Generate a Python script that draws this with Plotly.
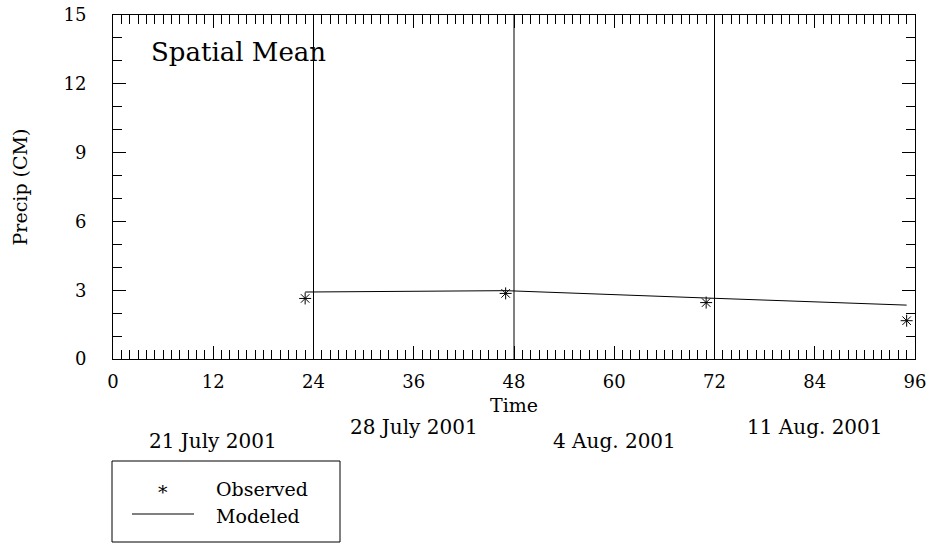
import plotly.graph_objects as go

# ---- data ----
obs_hours = [23, 47, 71, 95]
observed = [2.64, 2.86, 2.46, 1.67]
model_hours = [23, 47, 71, 95]
modeled = [2.92, 2.98, 2.66, 2.35]
day_bounds = [24, 48, 72]
date_hours = [12, 36, 60, 84]
date_labels = ["21 July 2001", "28 July 2001", "4 Aug. 2001", "11 Aug. 2001"]
x_ticks = [0, 12, 24, 36, 48, 60, 72, 84, 96]
y_ticks = [0, 3, 6, 9, 12, 15]
legend_names = ["Observed", "Modeled"]

W, H = 931, 544
L, R, T, B = 113, 16, 15, 185
PW, PH = W - L - R, H - T - B
FONT = "DejaVu Serif"
BLACK = "black"


def px(xp):
    return (xp - L) / PW


def py(yp):
    return (H - B - yp) / PH


fig = go.Figure()
fig.add_trace(go.Scatter(
    x=model_hours, y=modeled, mode="lines", name=legend_names[1],
    line=dict(color=BLACK, width=1), showlegend=False))
fig.add_trace(go.Scatter(
    x=obs_hours, y=observed, mode="markers", name=legend_names[0],
    marker=dict(symbol="asterisk-open", size=10, color=BLACK,
                line=dict(color=BLACK, width=1)), showlegend=False))

for d in day_bounds:
    fig.add_shape(type="line", xref="x", yref="paper", x0=d, x1=d, y0=0, y1=1,
                  line=dict(color=BLACK, width=1))

rows = [py(441), py(427)]
for i, (h, lab) in enumerate(zip(date_hours, date_labels)):
    fig.add_annotation(x=h, y=rows[i % 2], xref="x", yref="paper", text=lab,
                       showarrow=False, xanchor="center", yanchor="middle",
                       font=dict(family=FONT, size=20, color=BLACK))

fig.add_annotation(x=px(149), y=py(52), xref="paper", yref="paper",
                   text="Spatial Mean", showarrow=False, xanchor="left",
                   yanchor="middle", font=dict(family=FONT, size=26, color=BLACK))

# legend box
fig.add_shape(type="rect", xref="paper", yref="paper", x0=px(112), x1=px(340),
              y0=py(461), y1=py(542), line=dict(color=BLACK, width=1))
fig.add_annotation(x=px(163), y=py(492), xref="paper", yref="paper", text="*",
                   showarrow=False, xanchor="center", yanchor="middle",
                   font=dict(family=FONT, size=19, color=BLACK))
fig.add_shape(type="line", xref="paper", yref="paper", x0=px(132), x1=px(194),
              y0=py(514), y1=py(514), line=dict(color=BLACK, width=1))
fig.add_annotation(x=px(214), y=py(489), xref="paper", yref="paper",
                   text=legend_names[0], showarrow=False, xanchor="left",
                   yanchor="middle", font=dict(family=FONT, size=19, color=BLACK))
fig.add_annotation(x=px(214), y=py(516), xref="paper", yref="paper",
                   text=legend_names[1], showarrow=False, xanchor="left",
                   yanchor="middle", font=dict(family=FONT, size=19, color=BLACK))

axis_common = dict(showgrid=False, zeroline=False, showline=True, linecolor=BLACK,
                   linewidth=1, mirror="allticks", ticks="inside", tickcolor=BLACK,
                   tickwidth=1, automargin=False,
                   tickfont=dict(family=FONT, size=18, color=BLACK))

fig.update_xaxes(range=[0, 96], tickvals=x_ticks, ticklen=13,
                 minor=dict(dtick=1, tick0=0, ticks="inside", ticklen=9,
                            tickcolor=BLACK, tickwidth=1, showgrid=False),
                 title=dict(text="Time", font=dict(family=FONT, size=19, color=BLACK),
                            standoff=8),
                 ticklabelstandoff=6, **axis_common)
fig.update_yaxes(range=[0, 15], tickvals=y_ticks, ticklen=13,
                 minor=dict(dtick=1, tick0=0, ticks="inside", ticklen=9,
                            tickcolor=BLACK, tickwidth=1, showgrid=False),
                 title=dict(text="Precip (CM)", font=dict(family=FONT, size=19, color=BLACK),
                            standoff=30),
                 ticklabelstandoff=22, **axis_common)

fig.update_layout(width=W, height=H, margin=dict(l=L, r=R, t=T, b=B, autoexpand=False),
                  paper_bgcolor="white", plot_bgcolor="white", showlegend=False)

fig.write_html("out.html", config={"displayModeBar": False},
               post_script="document.body.style.margin='0';document.body.style.overflow='hidden';")
